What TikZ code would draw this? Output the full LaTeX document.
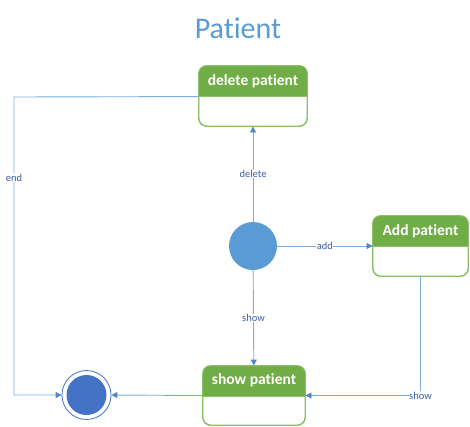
\documentclass[tikz,border=0pt]{standalone}
\usepackage{fontspec}
\setmainfont{Carlito}[Ligatures={NoCommon}]
\usetikzlibrary{arrows.meta,calc}
\definecolor{hdr}{HTML}{70AD47}
\definecolor{bord}{HTML}{8CC168}
\definecolor{ln}{HTML}{7AAEDD}
\definecolor{tip}{HTML}{4F86C6}
\definecolor{lbl}{HTML}{3A5DA8}
\definecolor{ini}{HTML}{5B9BD5}
\definecolor{fin}{HTML}{4472C4}
\definecolor{ttl}{HTML}{5B9BD5}
\tikzset{
  statebox/.style={draw=bord, line width=0.9pt, fill=white, rounded corners=8pt, inner sep=0pt},
  hdrtext/.style={text=white, font=\fontsize{15.5}{17}\selectfont\bfseries, inner sep=0pt},
  conn/.style={draw=ln, line width=0.9pt, -{Triangle[length=6pt,width=6pt,color=tip]}},
  lab/.style={fill=white, text=lbl, font=\fontsize{10.5}{11}\selectfont, inner sep=0.5pt},
}
\newcommand{\mkheader}[1]{%
  \begin{scope}
    \clip[rounded corners=8pt] (#1.north west) rectangle (#1.south east);
    \fill[hdr] (#1.north west) rectangle ($(#1.north east)+(0,31)$);
  \end{scope}
  \draw[bord, line width=0.9pt, rounded corners=8pt] (#1.north west) rectangle (#1.south east);
  \draw[bord, line width=0.6pt] ($(#1.north west)+(0,31)$) -- ($(#1.north east)+(0,31)$);
}
\begin{document}
\begin{tikzpicture}[x=1pt,y=-1pt]
\path[use as bounding box, fill=white] (0,0) rectangle (470,426);
\node[text=ttl, font=\fontsize{30}{34}\selectfont] (title) at (238,28) {Patient};

\node[statebox, minimum width=108pt, minimum height=60pt] (del) at (253,96) {};
\mkheader{del}
\node[hdrtext] (delt) at ($(del.north)+(0,15.5)$) {delete patient};

\node[statebox, minimum width=95pt, minimum height=60pt] (add) at (420.5,246) {};
\mkheader{add}
\node[hdrtext] (addt) at ($(add.north)+(0,15.5)$) {Add patient};

\node[statebox, minimum width=102pt, minimum height=59pt] (show) at (254,395.5) {};
\mkheader{show}
\node[hdrtext] (showt) at ($(show.north)+(0,15)$) {show patient};

\node[circle, fill=ini, minimum size=48pt, inner sep=0pt] (init) at (253,246) {};
\node[circle, draw=fin, line width=0.8pt, minimum size=49pt, inner sep=0pt] (final) at (86.5,395) {};
\node[circle, fill=fin, minimum size=40pt, inner sep=0pt] (finin) at (86.5,395) {};

\coordinate (delw) at ($(del.north west)+(0,31)$);
\coordinate (endc) at (14,97);
\coordinate (addb) at (add.south);

\draw[conn] (init) -- node[lab, pos=0.5] {delete} (del);
\draw[conn] (init) -- node[lab, pos=0.5] {add} (add);
\draw[conn] (init) -- node[lab, pos=0.5] {show} (show);
\draw[conn] (delw) -- (endc) -- node[lab, pos=0.27] {end} (endc |- final.west) -- (final.west);
\draw[conn] (addb) |- node[lab, pos=0.5] {show} (show.east);
\draw[conn] (show.west) -- (final.east);
\end{tikzpicture}
\end{document}
